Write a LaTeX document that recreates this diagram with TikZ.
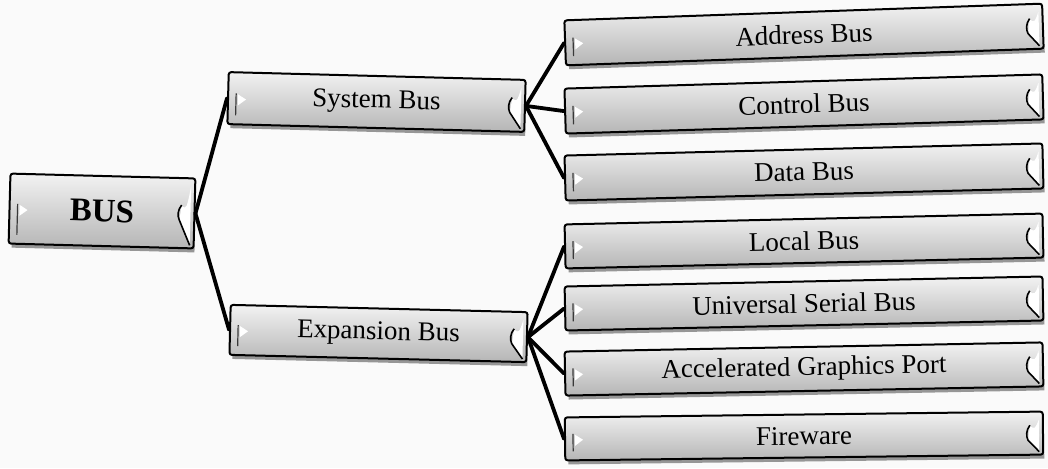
\documentclass[tikz,border=0pt]{standalone}
\usepackage{fontspec}
\setmainfont{Liberation Serif}
\usetikzlibrary{calc}

\tikzset{
  busbox/.style={draw=black, line width=2pt, rounded corners=2.5pt,
    top color=gray!10, middle color=gray!22, bottom color=gray!58,
    inner sep=0pt, font=\fontsize{27}{32}\selectfont},
  rootbox/.style={busbox, font=\fontsize{33}{38}\selectfont\bfseries},
  link/.style={draw=black, line width=3.8pt, line cap=round},
  boxshadow/.style={fill=black, opacity=0.4}
}

% \busbox{name}{cx}{cy}{angle}{width}{height}{style}{text}
\newcommand\busbox[8]{%
  \begin{scope}[shift={(#2,#3)}, rotate=#4, transform shape]
    \pgfmathsetmacro\hw{#5/2}
    \pgfmathsetmacro\hh{#6/2}
    % soft shadow along the lower edge
    \fill[boxshadow] (-\hw+3,\hh-2) rectangle (\hw+1,\hh+4);
    \node[#7, minimum width=#5pt, minimum height=#6pt] (#1) at (0,0) {#8};
    % bevel marks on the left end
    \draw[gray!45!black, line width=1.2pt] (-\hw+8,-5) -- (-\hw+8,\hh-9);
    \fill[white] (-\hw+10,-4) -- (-\hw+18,1) -- (-\hw+10,7) -- cycle;
    % bevel marks on the right end
    \fill[white] (\hw-15,7) -- (\hw-4,\hh-3) -- (\hw-4,-\hh+8)
      .. controls (\hw-8,-4) .. (\hw-13,-7) -- cycle;
    \draw[black, line width=1.6pt] (\hw-13,-8)
      .. controls (\hw-17,-3) and (\hw-17,3) .. (\hw-15,7) -- (\hw-4,\hh-3);
  \end{scope}%
}

\begin{document}
\begin{tikzpicture}[x=1pt, y=-1pt]
  \fill[gray!4] (0,0) rectangle (1048,468);
  \useasboundingbox (0,0) rectangle (1048,468);

  % root
  \busbox{bus}{102}{211}{-1.5}{185}{70}{rootbox}{BUS}

  % second level
  \busbox{sys}{376.5}{102}{-1.5}{297}{52}{busbox}{System Bus}
  \busbox{exp}{378.5}{333.5}{-1.4}{297}{50}{busbox}{Expansion Bus}

  % third level
  \busbox{addr}{804}{34.5}{2.0}{478}{45}{busbox}{Address Bus}
  \busbox{ctrl}{804}{104}{1.7}{478}{45}{busbox}{Control Bus}
  \busbox{data}{804}{172}{1.45}{478}{45}{busbox}{Data Bus}
  \busbox{local}{804}{241}{1.3}{478}{44}{busbox}{Local Bus}
  \busbox{usb}{804}{303.5}{1.2}{478}{44}{busbox}{Universal Serial Bus}
  \busbox{agp}{804}{369}{1.1}{478}{44}{busbox}{Accelerated Graphics Port}
  \busbox{fire}{804}{436}{0.7}{478}{43}{busbox}{Fireware}

  % connectors
  \draw[link] (bus.east) -- (sys.west);
  \draw[link] (bus.east) -- (exp.west);
  \foreach \t in {addr,ctrl,data}
    \draw[link] (sys.east) -- (\t.west);
  \foreach \t in {local,usb,agp,fire}
    \draw[link] (exp.east) -- (\t.west);
\end{tikzpicture}
\end{document}
